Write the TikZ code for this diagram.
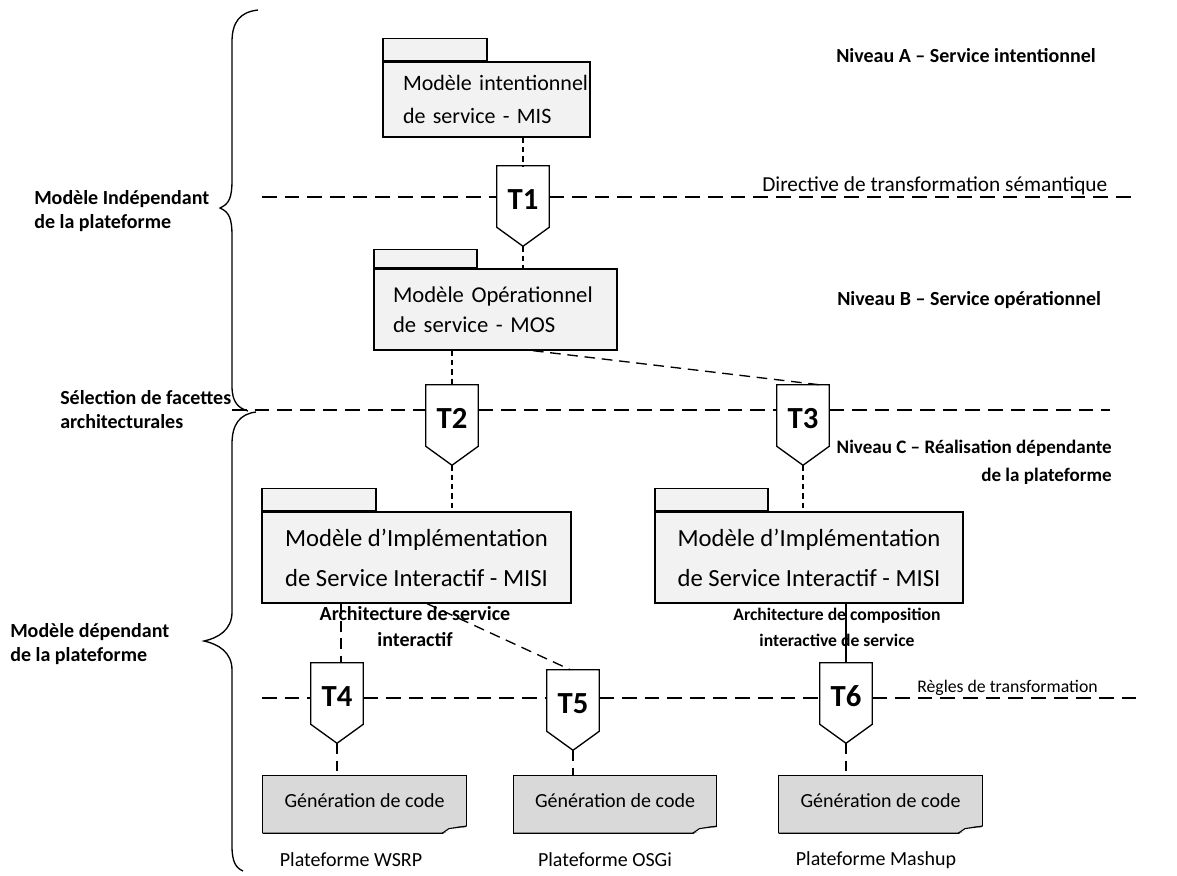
\documentclass[tikz,border=0pt]{standalone}
\usepackage{fontspec}
\setmainfont{Carlito}
\usetikzlibrary{calc}
\definecolor{pkgfill}{RGB}{242,242,242}
\definecolor{codefill}{RGB}{217,217,217}
\newcommand{\tpent}[1]{\draw[line width=1pt,line join=miter] (#1.north west) -- (#1.north east) -- ([yshift=14.25pt]#1.south east) -- (#1.south) -- ([yshift=14.25pt]#1.south west) -- cycle;}
\newcommand{\codebox}[1]{\fill[codefill] (#1.north west) -- (#1.north east) -- ([yshift=5.25pt]#1.south east) -- ([xshift=-18pt]#1.south east) -- (#1.south west) -- cycle;
\draw[line width=1pt] (#1.south west) -- (#1.north west) -- (#1.north east) -- ([yshift=5.25pt]#1.south east);
\draw[line width=1pt] (#1.south west) -- ([xshift=-18pt]#1.south east) .. controls ([xshift=-10pt,yshift=4pt]#1.south east) .. ([yshift=5.25pt]#1.south east);
\draw[line width=0.8pt,fill=white] ([xshift=-18pt]#1.south east) -- ([xshift=-13pt,yshift=3.5pt]#1.south east) -- ([yshift=5.25pt]#1.south east);}
\tikzset{
  x=0.75pt, y=-0.75pt,
  pkgbody/.style={draw, line width=1pt, fill=pkgfill, inner sep=0pt, align=left},
  pkgtab/.style={draw, line width=1pt, fill=pkgfill, inner sep=0pt, anchor=south west},
  tnode/.style={inner sep=0pt, minimum width=39pt, minimum height=60pt, font=\fontsize{23}{24}\selectfont\bfseries, text height=14.5pt, text depth=9.5pt},
  codenode/.style={inner sep=0pt, minimum width=152.25pt, minimum height=42.75pt, font=\fontsize{15}{18}\selectfont, text depth=6pt},
  lvl/.style={font=\fontsize{15}{21}\selectfont\bfseries, inner sep=0pt},
  side/.style={font=\fontsize{15}{18}\selectfont\bfseries, inner sep=0pt, align=left},
  plat/.style={font=\fontsize{15}{18}\selectfont, inner sep=0pt},
  longdash/.style={line width=1pt, dash pattern=on 11pt off 6pt},
  meddash/.style={line width=1pt, dash pattern=on 8pt off 5pt},
  shortdash/.style={line width=1pt, dash pattern=on 4pt off 3pt},
}
\begin{document}
\begin{tikzpicture}
\useasboundingbox (0,0) rectangle (1177,875);
% braces
\draw[line width=1pt] (258,10) .. controls (240,12) and (232,22) .. (232,42) -- (232,180) .. controls (232,198) and (229,204) .. (220,208) .. controls (229,212) and (232,218) .. (232,236) -- (232,386) .. controls (232,402) and (238,408) .. (248,411);
\draw[line width=1pt] (256,412) .. controls (240,414) and (232,424) .. (232,444) -- (232,612) .. controls (232,630) and (218,638) .. (204,641) .. controls (218,644) and (232,652) .. (232,670) -- (232,846) .. controls (232,862) and (236,868) .. (243,871);
% left labels
\node[side, anchor=west] (lpim) at (34,211) {Modèle Indépendant\\de la plateforme};
\node[side, anchor=west] (lsel) at (60,410) {Sélection de facettes\\architecturales};
\node[side, anchor=west] (lpsm) at (10,644) {Modèle dépendant\\de la plateforme};
% right labels
\node[lvl, anchor=west] (na) at (836,56) {Niveau A – Service intentionnel};
\node[lvl, anchor=west] (nb) at (837,300) {Niveau B – Service opérationnel};
\node[lvl, anchor=east, align=right, font=\fontsize{14.3}{21}\selectfont\bfseries] (nc) at (1112,462) {Niveau C – Réalisation dépendante\\de la plateforme};
% packages
\node[pkgbody, inner xsep=15pt, text width=125.25pt, minimum height=56.25pt, font=\fontsize{16.5}{25}\selectfont] (mis) at (486.5,99.5) {\mbox{Modèle intentionnel}\\\mbox{de service - MIS}};
\node[pkgtab, minimum width=78pt, minimum height=16.5pt] (mistab) at (mis.north west) {};
\node[pkgbody, inner xsep=14.25pt, text width=153.75pt, minimum height=60.75pt, font=\fontsize{17}{22.5}\selectfont] (mos) at (495.5,309.5) {\mbox{Modèle Opérationnel}\\\mbox{de service - MOS}};
\node[pkgtab, minimum width=77.25pt, minimum height=13.5pt] (mostab) at (mos.north west) {};
\node[pkgbody, minimum width=231.75pt, minimum height=68.25pt, font=\fontsize{18.5}{30}\selectfont] (misil) at (416.5,557.5) {Modèle d’Implémentation\\de Service Interactif - MISI};
\node[pkgtab, minimum width=85.5pt, minimum height=16.5pt] (misiltab) at (misil.north west) {};
\node[pkgbody, minimum width=231pt, minimum height=68.25pt, font=\fontsize{18.5}{30}\selectfont] (misir) at (809,557.5) {Modèle d’Implémentation\\de Service Interactif - MISI};
\node[pkgtab, minimum width=84.75pt, minimum height=16.5pt] (misirtab) at (misir.north west) {};
% T nodes
\node[tnode] (t1) at (523,206) {T1};
\node[tnode] (t2) at (452,425) {T2};
\node[tnode] (t3) at (803,425) {T3};
\node[tnode] (t4) at (337,703) {T4};
\node[tnode] (t5) at (573,710) {T5};
\node[tnode] (t6) at (846,703) {T6};
\tpent{t1}\tpent{t2}\tpent{t3}\tpent{t4}\tpent{t5}\tpent{t6}
% code boxes
\node[codenode] (g1) at (364.5,804.5) {};
\node[codenode] (g2) at (615,804.5) {};
\node[codenode] (g3) at (880.5,804.5) {};
\codebox{g1}\codebox{g2}\codebox{g3}
\node[codenode] (g1t) at (g1) {Génération de code};
\node[codenode] (g2t) at (g2) {Génération de code};
\node[codenode] (g3t) at (g3) {Génération de code};
% platform labels
\node[plat] (p1) at (351,860) {Plateforme WSRP};
\node[plat] (p2) at (605,860) {Plateforme OSGi};
\node[plat] (p3) at (876,860) {Plateforme Mashup};
% architecture labels
\node[font=\fontsize{15}{19.5}\selectfont\bfseries, align=center, inner sep=0pt] (arch1) at (415,627) {Architecture de service\\interactif};
\node[font=\fontsize{13.2}{19.5}\selectfont\bfseries, align=center, inner sep=0pt] (arch2) at (837,627) {Architecture de composition\\interactive de service};
% horizontal level lines
\coordinate (l1a) at (262,197);
\coordinate (l1b) at (1138,197);
\coordinate (l2a) at (232,410);
\coordinate (l2b) at (1110,410);
\coordinate (l3a) at (262,698);
\coordinate (l3b) at (1138,698);
\draw[longdash] (l1a) -- (l1a -| t1.west);
\draw[longdash] (l1a -| t1.east) -- (l1b);
\draw[longdash] (l2a) -- (l2a -| t2.west);
\draw[longdash] (l2a -| t2.east) -- (l2a -| t3.west);
\draw[longdash] (l2a -| t3.east) -- (l2b);
\draw[longdash] (l3a) -- (l3a -| t4.west);
\draw[longdash] (l3a -| t4.east) -- (l3a -| t5.west);
\draw[longdash] (l3a -| t5.east) -- (l3a -| t6.west);
\draw[longdash] (l3a -| t6.east) -- (l3b);
\node[font=\fontsize{16}{18}\selectfont, inner sep=0pt, anchor=base west] (dir) at (762,191) {Directive de transformation sémantique};
\node[font=\fontsize{13.3}{16}\selectfont, inner sep=0pt, anchor=base west] (regles) at (917,692) {Règles de transformation};
% connectors
\draw[shortdash] (t1.north |- mis.south) -- (t1.north);
\draw[shortdash] (t1.south) -- (t1.south |- mos.north);
\draw[shortdash] (t2.north |- mos.south) -- (t2.north);
\draw[meddash] ($(mos.south west)!0.653!(mos.south east)$) -- ([xshift=-7.5pt]t3.north east);
\draw[shortdash] (t2.south) -- (t2.south |- misil.north);
\draw[shortdash] (t3.south) -- (t3.south |- misir.north);
\draw[meddash] ([xshift=3pt]t4.north |- misil.south) -- ([xshift=3pt]t4.north);
\draw[meddash] ($(misil.south west)!0.534!(misil.south east)$) -- ([xshift=-2pt]t5.north);
\draw[line width=1pt] (t6.north |- misir.south) -- (t6.north);
\draw[meddash] (t4.south) -- (t4.south |- g1.north);
\draw[meddash] (t5.south) -- (t5.south |- g2.north);
\draw[meddash] (t6.south) -- (t6.south |- g3.north);
\end{tikzpicture}
\end{document}
